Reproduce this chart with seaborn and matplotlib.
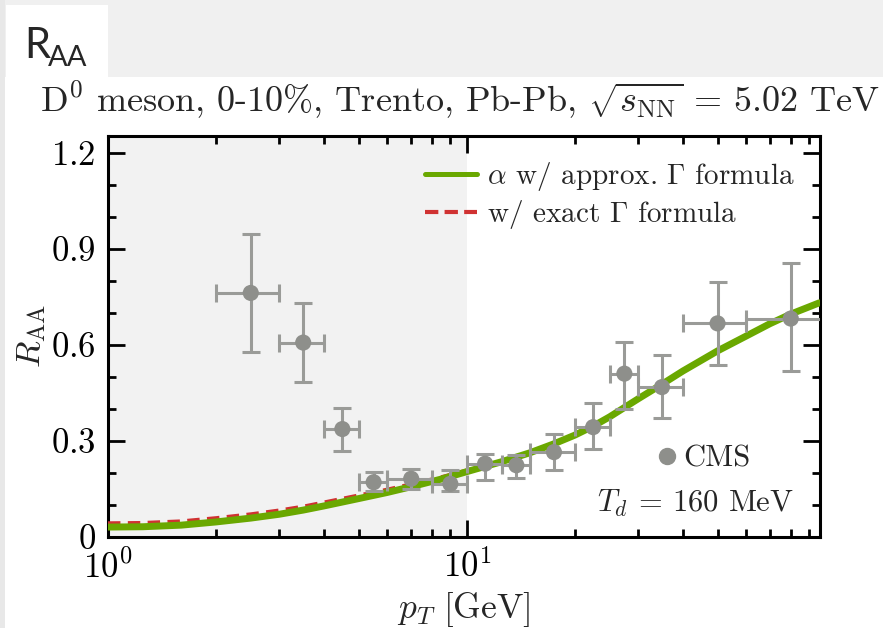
import matplotlib
matplotlib.use("Agg")
import matplotlib.pyplot as plt
import seaborn as sns
import pandas as pd
from matplotlib.patches import Rectangle
from matplotlib.lines import Line2D
from matplotlib.ticker import LogLocator, FixedLocator, FuncFormatter, NullFormatter

# ---------------- data ----------------
pt_center = [2.5, 3.5, 4.5, 5.5, 7, 9, 11.25, 13.75, 17.5, 22.5, 27.5, 35, 50, 80]
pt_low = [2, 3, 4, 5, 6, 8, 10, 12.5, 15, 20, 25, 30, 40, 60]
pt_high = [3, 4, 5, 6, 8, 10, 12.5, 15, 20, 25, 30, 40, 60, 100]
raa = [0.762, 0.607, 0.337, 0.171, 0.182, 0.166, 0.229, 0.224, 0.265, 0.343, 0.510, 0.468, 0.667, 0.682]
raa_low = [0.578, 0.483, 0.269, 0.145, 0.150, 0.145, 0.177, 0.183, 0.208, 0.276, 0.401, 0.370, 0.536, 0.518]
raa_high = [0.945, 0.732, 0.402, 0.203, 0.213, 0.208, 0.260, 0.255, 0.323, 0.417, 0.609, 0.568, 0.797, 0.854]

curve_pt = [1.0, 1.25, 1.6, 2.0, 2.5, 3.0, 3.5, 4.0, 5.0, 6.0, 7.0, 8.5, 10, 12.5, 15, 17.5, 20,
            22.5, 25, 30, 35, 40, 50, 60, 70, 80, 96]
approx_gamma = [0.031, 0.032, 0.037, 0.047, 0.059, 0.071, 0.084, 0.097, 0.120, 0.139, 0.157, 0.181, 0.204,
                0.235, 0.263, 0.291, 0.318, 0.346, 0.375, 0.431, 0.477, 0.518, 0.581, 0.627, 0.666, 0.696, 0.731]
exact_gamma = [0.043, 0.044, 0.049, 0.059, 0.071, 0.083, 0.095, 0.108, 0.130, 0.148, 0.165, 0.187, 0.208,
               0.236, 0.263, 0.291, 0.318, 0.346, 0.375, 0.431, 0.477, 0.518, 0.581, 0.627, 0.666, 0.696, 0.731]

y_ticks = [0, 0.3, 0.6, 0.9, 1.2]
y_minor = [0.1, 0.2, 0.4, 0.5, 0.7, 0.8, 1.0, 1.1]
legend_labels = [r"$\alpha$ w/ approx. $\Gamma$ formula", r"w/ exact $\Gamma$ formula"]
title_text = r"D$^0$ meson, 0-10%, Trento, Pb-Pb, $\sqrt{s_{\rm NN}}$ = 5.02 TeV"

# ---------------- style ----------------
sns.set_style("ticks")
plt.rcParams["font.family"] = ["cmr10", "DejaVu Serif"]
plt.rcParams["mathtext.fontset"] = "cm"
plt.rcParams["axes.formatter.use_mathtext"] = True
plt.rcParams["axes.unicode_minus"] = False

GREEN = "#6aa800"
RED = "#d03232"
GRAY = "#8e8f8b"
EGRAY = "#9a9b98"

fig = plt.figure(figsize=(8.83, 6.28), dpi=100)
fig.patch.set_facecolor("white")
W, H = 883, 628
ax = fig.add_axes([108 / W, 1 - 537 / H, (820 - 108) / W, (537 - 136) / H])

# slide-like background pieces
fig.patches.append(Rectangle((0, 1 - 77 / H), 1, 77 / H, transform=fig.transFigure,
                             facecolor="#f0f0f0", edgecolor="none", zorder=-10))
fig.patches.append(Rectangle((0, 0), 5 / W, 1, transform=fig.transFigure,
                             facecolor="#e8e8e8", edgecolor="none", zorder=-10))
fig.patches.append(Rectangle((6 / W, 1 - 77 / H), (108 - 6) / W, (77 - 5) / H, transform=fig.transFigure,
                             facecolor="white", edgecolor="none", zorder=-9))
fig.text(24 / W, 1 - 58 / H, "R", fontsize=30, family="Lato", ha="left", va="baseline")
fig.text(48 / W, 1 - 66 / H, "AA", fontsize=21, family="Lato", ha="left", va="baseline")

# shaded region pT < 10
ax.axvspan(1, 10, color="#f2f2f2", zorder=0, lw=0)

df_curves = pd.DataFrame({"pT": curve_pt, "approx": approx_gamma, "exact": exact_gamma})
sns.lineplot(data=df_curves, x="pT", y="exact", ax=ax, color=RED, lw=2.8, estimator=None, sort=False,
             zorder=3, legend=False)
ax.lines[-1].set_dashes([3.2, 1.9])
sns.lineplot(data=df_curves, x="pT", y="approx", ax=ax, color=GREEN, lw=5.0, estimator=None, sort=False,
             zorder=4, legend=False)
ax.lines[-1].set_solid_capstyle("round")
ax.lines[-1].set_solid_joinstyle("round")

xerr = [[c - l for c, l in zip(pt_center, pt_low)], [h - c for c, h in zip(pt_center, pt_high)]]
yerr = [[r - l for r, l in zip(raa, raa_low)], [h - r for r, h in zip(raa, raa_high)]]
ax.errorbar(pt_center, raa, xerr=xerr, yerr=yerr, fmt="none", ecolor=EGRAY, elinewidth=2.2,
            capsize=6.8, capthick=2.2, zorder=5)
df_pts = pd.DataFrame({"pT": pt_center, "RAA": raa})
sns.scatterplot(data=df_pts, x="pT", y="RAA", ax=ax, color=GRAY, s=135, edgecolor="none", zorder=6,
                legend=False)

ax.set_xscale("log")
ax.set_xlim(1, 96.5)
ax.set_ylim(0, 1.252)
ax.yaxis.set_major_locator(FixedLocator(y_ticks))
ax.yaxis.set_minor_locator(FixedLocator(y_minor))
ax.yaxis.set_major_formatter(FuncFormatter(lambda v, p: "$%g$" % v))
ax.xaxis.set_major_locator(LogLocator(base=10, numticks=5))
ax.xaxis.set_minor_locator(LogLocator(base=10, subs=range(2, 10), numticks=20))
ax.xaxis.set_minor_formatter(NullFormatter())

for s in ax.spines.values():
    s.set_linewidth(2.2)
    s.set_color("black")
ax.tick_params(which="both", direction="in", top=True, right=True, width=2.0, colors="black")
ax.tick_params(which="major", length=12.5, labelsize=25, pad=9)
ax.tick_params(which="minor", length=6)

ax.set_xlabel(r"$p_T\ [\mathrm{GeV}]$", fontsize=25.5, labelpad=4)
ax.set_ylabel(r"$R_{\rm AA}$", fontsize=25, labelpad=2)

fig.text(460 / W, 1 - 112 / H, title_text, fontsize=26, ha="center", va="baseline")

handles = [Line2D([], [], color=GREEN, lw=3.6),
           Line2D([], [], color=RED, lw=3.0, dashes=[3.2, 1.5])]
leg = ax.legend(handles, legend_labels, loc="upper right", bbox_to_anchor=(0.965, 0.94), frameon=False,
                fontsize=21, handlelength=1.8, handletextpad=0.35, labelspacing=0.18, borderaxespad=0,
                borderpad=0)
ax.add_artist(leg)

cms = Line2D([], [], color=GRAY, marker="o", markersize=11.5, ls="none")
leg2 = ax.legend([cms], ["CMS"], loc="center left", bbox_to_anchor=(0.772, 0.195), frameon=False,
                 fontsize=22, handlelength=0.6, handletextpad=0.25, borderaxespad=0, borderpad=0)
ax.text(0.964, 0.085, r"$T_d$ = 160 MeV", transform=ax.transAxes, fontsize=22, ha="right", va="center")

fig.savefig("out.png", dpi=100)
